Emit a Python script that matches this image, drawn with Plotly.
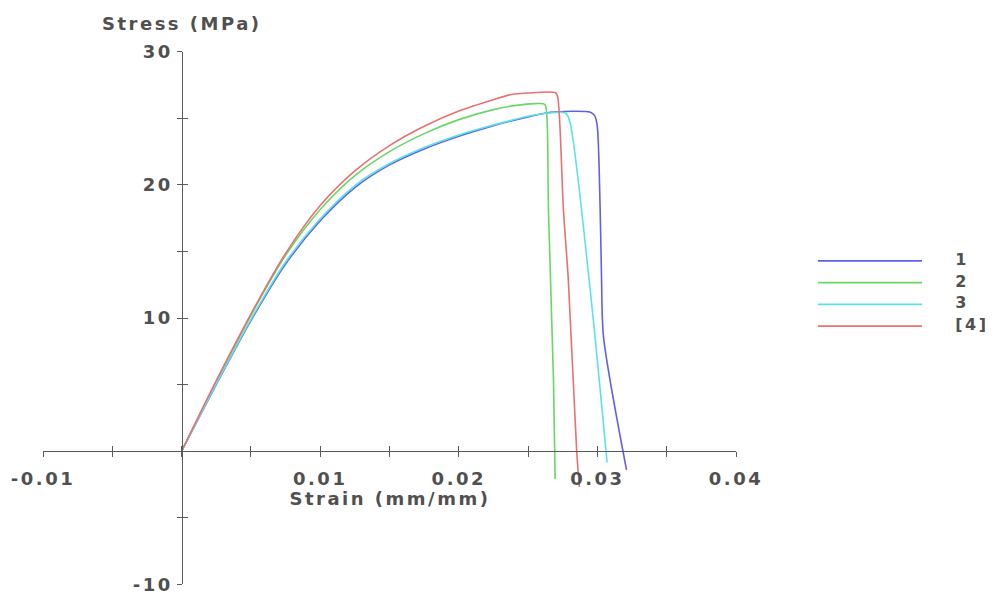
import plotly.graph_objects as go

# ---------------- data ----------------
series_names = ["1", "2", "3", "[4]"]

strain_1 = [0, 0.0025, 0.005, 0.0075, 0.01, 0.0125, 0.015, 0.0175, 0.02, 0.0225, 0.025, 0.0266, 0.0295, 0.0298, 0.02998, 0.0302, 0.0303, 0.03044, 0.0321]
stress_1 = [0, 5.0, 9.8, 14.05, 17.3, 19.8, 21.5, 22.7, 23.65, 24.45, 25.1, 25.45, 25.45, 25.2, 24.5, 18.1, 12.9, 8.6, -1.4]

strain_2 = [0, 0.0025, 0.005, 0.0075, 0.01, 0.0125, 0.015, 0.0175, 0.02, 0.0225, 0.024, 0.0255, 0.0262, 0.02635, 0.02647, 0.02683, 0.02695]
stress_2 = [0, 5.2, 10.2, 14.7, 18.15, 20.7, 22.5, 23.85, 24.9, 25.65, 25.95, 26.1, 26.05, 25.2, 18.1, 5.4, -2.1]

strain_3 = [0, 0.0025, 0.005, 0.0075, 0.01, 0.0125, 0.015, 0.0175, 0.02, 0.0225, 0.025, 0.0265, 0.0277, 0.028, 0.0294, 0.0307]
stress_3 = [0, 5.05, 9.9, 14.2, 17.45, 19.95, 21.6, 22.8, 23.75, 24.5, 25.15, 25.4, 25.4, 24.8, 12.9, -0.85]

strain_4 = [0, 0.0025, 0.005, 0.0075, 0.01, 0.0125, 0.015, 0.0175, 0.02, 0.0225, 0.0238, 0.025, 0.027, 0.02715, 0.02755, 0.0279, 0.0285, 0.0287]
stress_4 = [0, 5.3, 10.3, 14.85, 18.45, 21.05, 22.95, 24.4, 25.55, 26.4, 26.78, 26.9, 26.9, 26.5, 18.1, 12.9, 0.1, -2.7]

x_tickvals = [-0.01, -0.005, 0, 0.005, 0.01, 0.015, 0.02, 0.025, 0.03, 0.035, 0.04]
x_ticktext = ["-0.01", "", "", "", "0.01", "", "0.02", "", "0.03", "", "0.04"]
y_tickvals = [-10, -5, 0, 5, 10, 15, 20, 25, 30]
y_ticktext = ["-10", "", "", "", "10", "", "20", "", "30"]

x_title = "Strain (mm/mm)"
y_title = "Stress (MPa)"

# ---------------- style ----------------
colors = ["#6161e8", "#66d866", "#5ce3e8", "#ea7070"]
FONT = dict(family="DejaVu Sans", size=18, color="#505050", weight="bold")
AX = "#5a5a5a"

xdom = [0.04322, 0.7397]
ydom = [0.0294, 0.9141]
x_range = [-0.01, 0.04]
y_range = [-10, 30]
# positions of the crossing axes (at data zero)
xpos = xdom[0] + (0 - x_range[0]) / (x_range[1] - x_range[0]) * (xdom[1] - xdom[0])
ypos = ydom[0] + (0 - y_range[0]) / (y_range[1] - y_range[0]) * (ydom[1] - ydom[0])

fig = go.Figure()
all_x = [strain_1, strain_2, strain_3, strain_4]
all_y = [stress_1, stress_2, stress_3, stress_4]
for name, xs, ys, c in zip(series_names, all_x, all_y, colors):
    fig.add_trace(go.Scatter(x=xs, y=ys, mode="lines", name=name,
                             line=dict(color=c, width=1.6, shape="spline", smoothing=0.8),
                             showlegend=False))

# dummy trace so the overlay axes (inside ticks) get drawn
fig.add_trace(go.Scatter(x=[None], y=[None], xaxis="x3", yaxis="y3", showlegend=False))

# custom legend in its own small subplot (long line swatches)
for i, (name, c) in enumerate(zip(series_names, colors)):
    fig.add_trace(go.Scatter(x=[0.11, 0.633], y=[i, i], mode="lines", xaxis="x2", yaxis="y2",
                             line=dict(color=c, width=1.6), showlegend=False, hoverinfo="skip"))
fig.add_trace(go.Scatter(x=[0.80] * len(series_names), y=list(range(len(series_names))),
                         mode="text", text=series_names, textposition="middle right",
                         textfont=dict(family="DejaVu Sans", size=16, color="#505050", weight="bold"),
                         xaxis="x2", yaxis="y2", showlegend=False, hoverinfo="skip"))

common_x = dict(domain=xdom, range=x_range, anchor="free", position=ypos, automargin=False,
                showgrid=False, zeroline=False, tickvals=x_tickvals)
common_y = dict(domain=ydom, range=y_range, anchor="free", position=xpos, automargin=False,
                showgrid=False, zeroline=False, tickvals=y_tickvals)

fig.update_layout(
    width=995, height=602,
    margin=dict(l=0, r=0, t=0, b=0, autoexpand=False),
    paper_bgcolor="white", plot_bgcolor="rgba(0,0,0,0)",
    font=FONT,
    showlegend=False,
    xaxis=dict(**common_x, showline=True, linecolor=AX, linewidth=1.2,
               ticks="outside", ticklen=5, tickcolor=AX, tickwidth=1.2,
               ticktext=x_ticktext, tickfont=FONT, ticklabelstandoff=6),
    yaxis=dict(**common_y, showline=True, linecolor=AX, linewidth=1.2,
               ticks="outside", ticklen=5, tickcolor=AX, tickwidth=1.2,
               ticktext=y_ticktext, tickfont=FONT),
    xaxis3=dict(**common_x, overlaying="x", showline=False, ticks="inside", ticklen=5,
                tickcolor=AX, tickwidth=1.2, showticklabels=False),
    yaxis3=dict(**common_y, overlaying="y", showline=False, ticks="inside", ticklen=5,
                tickcolor=AX, tickwidth=1.2, showticklabels=False),
    xaxis2=dict(domain=[0.8, 1.0], range=[0, 1], visible=False, anchor="y2", automargin=False),
    yaxis2=dict(domain=[0.4402, 0.5847], range=[3.5, -0.5], visible=False, anchor="x2", automargin=False),
    annotations=[
        dict(text=y_title, xref="x", yref="paper", x=0, y=0.961, xanchor="center",
             yanchor="middle", showarrow=False, font=FONT),
        dict(text=x_title, xref="x", yref="y", x=0.015, y=-3.55, xanchor="center",
             yanchor="middle", showarrow=False, font=FONT),
    ],
)

post = """
var s=document.createElement('style');
s.innerHTML='.js-plotly-plot svg text{letter-spacing:2.5px;}';
document.head.appendChild(s);
"""
fig.write_html("out.html", post_script=post)
